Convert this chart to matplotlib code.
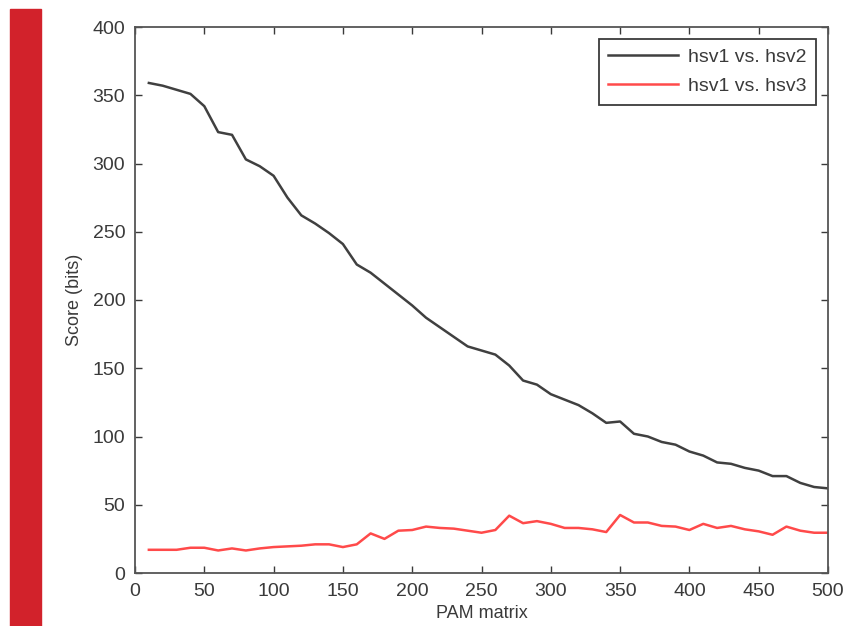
import numpy as np
import matplotlib
matplotlib.use('Agg')
import matplotlib.pyplot as plt
from matplotlib.patches import Rectangle

# PAM matrix number on the x axis
pam = list(range(10, 501, 10))

# score (bits) for hsv1 vs. hsv2
hsv2 = [359, 357, 354, 351, 342, 323, 321, 303, 298, 291,
        275, 262, 256, 249, 241, 226, 220, 212, 204, 196,
        187, 180, 173, 166, 163, 160, 152, 141, 138, 131,
        127, 123, 117, 110, 111, 102, 100, 96, 94, 89,
        86, 81, 80, 77, 75, 71, 71, 66, 63, 62]

# score (bits) for hsv1 vs. hsv3
hsv3 = [17, 17, 17, 18.5, 18.5, 16.5, 18, 16.5, 18, 19,
        19.5, 20, 21, 21, 19, 21, 29, 25, 31, 31.5,
        34, 33, 32.5, 31, 29.5, 31.5, 42, 36.5, 38, 36,
        33, 33, 32, 30, 42.5, 37, 37, 34.5, 34, 31.5,
        36, 33, 34.5, 32, 30.5, 28, 34, 31, 29.5, 29.5]

plt.rcParams['font.family'] = ['Liberation Sans', 'DejaVu Sans']

fig = plt.figure(figsize=(8.46, 6.26), dpi=100)

# red strip down the left edge
fig.patches.append(Rectangle((10 / 846, 0), 31 / 846, 1 - 9 / 626,
                             transform=fig.transFigure, color='#d2222b', zorder=0))

ax = fig.add_axes([135 / 846, 1 - 573 / 626, 693 / 846, 546 / 626])
ax.plot(pam, hsv2, color='#404040', linewidth=1.8, label='hsv1 vs. hsv2')
ax.plot(pam, hsv3, color='#ff4a4a', linewidth=1.8, label='hsv1 vs. hsv3')

ax.set_xlim(0, 500)
ax.set_ylim(0, 400)
ax.set_xticks(np.arange(0, 501, 50))
ax.set_yticks(np.arange(0, 401, 50))
ax.tick_params(direction='in', top=True, right=True, length=5, width=1,
               labelsize=14, colors='#3a3a3a', pad=7)
for s in ax.spines.values():
    s.set_color('#555555')
    s.set_linewidth(1.3)

ax.set_ylabel('Score (bits)', fontsize=13, color='#3a3a3a', labelpad=7)
ax.set_xlabel('PAM matrix', fontsize=13, color='#3a3a3a', labelpad=4)

leg = ax.legend(loc='upper right', fontsize=14, fancybox=False, framealpha=1,
                borderaxespad=0.6, handlelength=3.6, handletextpad=0.5,
                labelspacing=0.6, borderpad=0.5)
leg.get_frame().set_edgecolor('#3a3a3a')
leg.get_frame().set_linewidth(1.3)
for t in leg.get_texts():
    t.set_color('#3a3a3a')

plt.savefig('out.png', dpi=100)
